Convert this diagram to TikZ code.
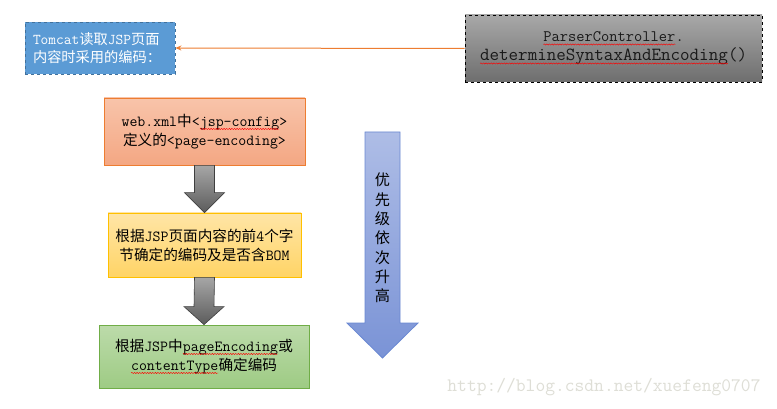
\documentclass[tikz,border=0pt]{standalone}
\usepackage{fontspec}
\newfontfamily\cjk[Scale=0.95]{Noto Sans CJK SC}
\usetikzlibrary{calc,arrows.meta,decorations.pathmorphing}
\newcommand\zh[1]{{\cjk #1}}
\newcommand\sq[1]{\tikz[baseline=(sqt.base),x=1pt,y=1pt]{\node[inner sep=0pt,outer sep=0pt,minimum size=0pt,draw=none,fill=none,solid](sqt){#1};\draw[red,solid,line width=0.45pt,decorate,decoration={snake,amplitude=0.6pt,segment length=2.6pt}] ([yshift=-2.6pt]sqt.base west) -- ([yshift=-2.6pt]sqt.base east);}}
\definecolor{blueF}{HTML}{5B9BD5}
\definecolor{blueD}{HTML}{41719C}
\definecolor{orgT}{HTML}{F8C4AA}
\definecolor{orgB}{HTML}{F4A783}
\definecolor{orgD}{HTML}{ED7D31}
\definecolor{yelT}{HTML}{FFE5A6}
\definecolor{yelB}{HTML}{FFD466}
\definecolor{yelD}{HTML}{FFC000}
\definecolor{grnT}{HTML}{BCDBAA}
\definecolor{grnB}{HTML}{9ECB84}
\definecolor{grnD}{HTML}{70AD47}
\definecolor{gryT}{HTML}{A8A8A8}
\definecolor{gryB}{HTML}{6E6E6E}
\definecolor{arrT}{HTML}{A6A6A6}
\definecolor{arrB}{HTML}{5C5C5C}
\definecolor{arrD}{HTML}{3F3F3F}
\definecolor{bluT}{HTML}{AEBDE6}
\definecolor{bluB}{HTML}{7A93D6}
\definecolor{bluD}{HTML}{6A88D2}
\definecolor{wmark}{HTML}{DEDED6}
\tikzset{
  bodyfont/.style={font=\ttfamily\fontsize{15.4}{19}\selectfont},
  tcbox/.style={fill=blueF, draw=blueD, dashed, line width=0.8pt, text=white,
    minimum height=52pt, text width=134pt, inner sep=8pt, align=left,
    font=\ttfamily\fontsize{15}{18}\selectfont},
  pcbox/.style={top color=gryT, bottom color=gryB, draw=black, dashed, line width=0.8pt,
    minimum width=297pt, minimum height=67pt, align=center, text=black!90,
    font=\ttfamily\fontsize{16}{19}\selectfont},
  orgbox/.style={top color=orgT, bottom color=orgB, draw=orgD, line width=0.8pt,
    minimum width=201pt, minimum height=67pt, align=center, bodyfont},
  yelbox/.style={top color=yelT, bottom color=yelB, draw=yelD, line width=0.8pt,
    minimum width=193pt, minimum height=64pt, align=center, bodyfont},
  grnbox/.style={top color=grnT, bottom color=grnB, draw=grnD, line width=0.8pt,
    minimum width=210pt, minimum height=63pt, align=center, bodyfont},
  grayarrow/.style={top color=arrT, bottom color=arrB, draw=arrD, line width=0.6pt},
  bigarrow/.style={top color=bluT, bottom color=bluB, draw=bluD, line width=0.8pt},
  orgline/.style={draw=orgD, line width=1pt, -{Stealth[length=6pt,width=5pt]}}
}
\begin{document}
\begin{tikzpicture}[x=1pt,y=-1pt]
\useasboundingbox (0,0) rectangle (777,409);
\fill[white] (0,0) rectangle (777,409);

\node[tcbox] (tc) at (100,48) {Tomcat\zh{读取}JSP\zh{页面}\\\zh{内容时采用的编码：}};
\node[pcbox] (pc) at (613.5,48.5)
  {\sq{ParserController}.\\
   {\fontsize{18.5}{19}\selectfont\sq{determineSyntaxAndEncoding}()}};
\draw[orgline] (pc.west) -- (tc.east);

\node[orgbox] (o) at (204.5,131.5) {web.xml\zh{中}<\sq{jsp-config}>\\\zh{定义的}<page-encoding>};
\node[yelbox] (y) at (204.5,245) {\zh{根据}JSP\zh{页面内容的前}4\zh{个字}\\\zh{节确定的编码及是否含}BOM};
\node[grnbox] (g) at (204,356.5) {\zh{根据}JSP\zh{中}\sq{pageEncoding}\zh{或}\\\sq{contentType}\zh{确定编码}};

\path[grayarrow] ($(o.south)+(-10,0)$) -- ($(y.north)+(-10,-20)$) -- ($(y.north)+(-20,-20)$)
  -- (y.north) -- ($(y.north)+(20,-20)$) -- ($(y.north)+(10,-20)$) -- ($(o.south)+(10,0)$) -- cycle;
\path[grayarrow] ($(y.south)+(-10,0)$) -- ($(g.north)+(-10,-18)$) -- ($(g.north)+(-20,-18)$)
  -- (g.north) -- ($(g.north)+(20,-18)$) -- ($(g.north)+(10,-18)$) -- ($(y.south)+(10,0)$) -- cycle;

\path[bigarrow] (365,132) -- (400,132) -- (400,323) -- (418,323) -- (382.5,358) -- (347,323) -- (365,323) -- cycle;
\node[font=\fontsize{16}{19.3}\selectfont\cjk, align=center, inner sep=0pt] (prio) at (382.5,238)
  {优\\先\\级\\依\\次\\升\\高};

\node[text=wmark, font=\ttfamily\fontsize{19}{20}\selectfont] (wm) at (604,387) {http://blog.csdn.net/xuefeng0707};
\end{tikzpicture}
\end{document}
